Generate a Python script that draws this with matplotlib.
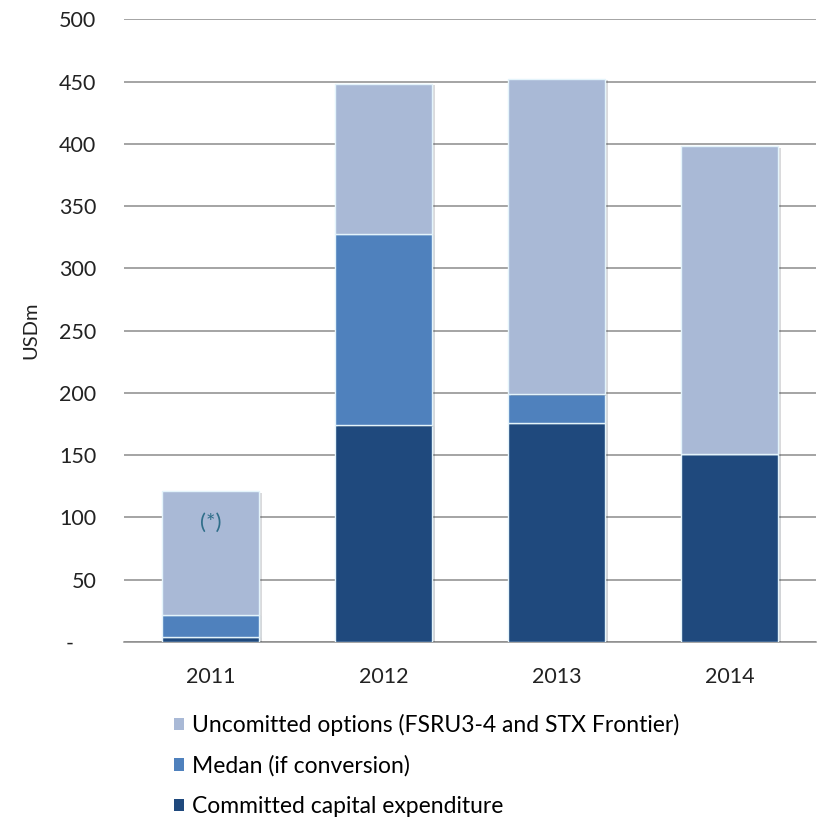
import matplotlib
matplotlib.use('Agg')
import matplotlib.pyplot as plt
import matplotlib.patheffects as pe
from matplotlib.patches import Patch

plt.rcParams['font.family'] = ['Lato', 'DejaVu Sans']

years = ['2011', '2012', '2013', '2014']
committed = [4, 174, 176, 151]
medan = [18, 154, 23, 0]
uncommitted = [99, 120, 253, 247]

labels = ['Uncomitted options (FSRU3-4 and STX Frontier)',
          'Medan (if conversion)',
          'Committed capital expenditure']
colors = ['#A9B9D6', '#4F81BD', '#1F497D']

yticks = [0, 50, 100, 150, 200, 250, 300, 350, 400, 450, 500]
ytick_labels = ['-    '] + [str(v) for v in yticks[1:]]

fig = plt.figure(figsize=(8.21, 8.26), dpi=100)
ax = fig.add_axes([0.151, 0.2228, 0.843, 0.7538])

x = range(len(years))
w = 0.56
shadow = [pe.SimplePatchShadow(offset=(2, -1), alpha=0.18), pe.Normal()]
b1 = ax.bar(x, committed, w, color=colors[2], edgecolor='#e4f4fb', linewidth=1, zorder=3)
b2 = ax.bar(x, medan, w, bottom=committed, color=colors[1], edgecolor='#e4f4fb', linewidth=1, zorder=3)
bottom2 = [a + b for a, b in zip(committed, medan)]
b3 = ax.bar(x, uncommitted, w, bottom=bottom2, color=colors[0], edgecolor='#e4f4fb', linewidth=1, zorder=3)
for bars in (b1, b2, b3):
    for p in bars:
        p.set_path_effects(shadow)

ax.text(0, 96, '(*)', ha='center', va='center', fontsize=16, color='#2F6E8A', zorder=4)

ax.set_xlim(-0.5, 3.5)
ax.set_ylim(0, 500)
ax.set_yticks(yticks)
ax.set_yticklabels(ytick_labels)
ax.set_xticks(list(x))
ax.set_xticklabels(years)
ax.yaxis.grid(True, color='#8c8c8c', linewidth=1.1, zorder=0)
ax.set_axisbelow(True)
for s in ['top', 'right', 'left']:
    ax.spines[s].set_visible(False)
ax.spines['bottom'].set_color('#8c8c8c')
ax.spines['bottom'].set_linewidth(1.1)
ax.tick_params(axis='y', length=0, pad=20, labelsize=15.5, labelcolor='#222222')
ax.tick_params(axis='x', length=0, pad=18, labelsize=15.5, labelcolor='#222222')
ax.set_ylabel('USDm', fontsize=14.5, color='#222222', labelpad=14)

handles = [Patch(facecolor=colors[0]), Patch(facecolor=colors[1]), Patch(facecolor=colors[2])]
fig.legend(handles, labels, loc='upper left', bbox_to_anchor=(0.212, 0.136),
           frameon=False, fontsize=16.5, handlelength=0.44, handleheight=0.44,
           handletextpad=0.35, labelspacing=0.85, borderaxespad=0, borderpad=0)

fig.savefig('out.png', dpi=100)
